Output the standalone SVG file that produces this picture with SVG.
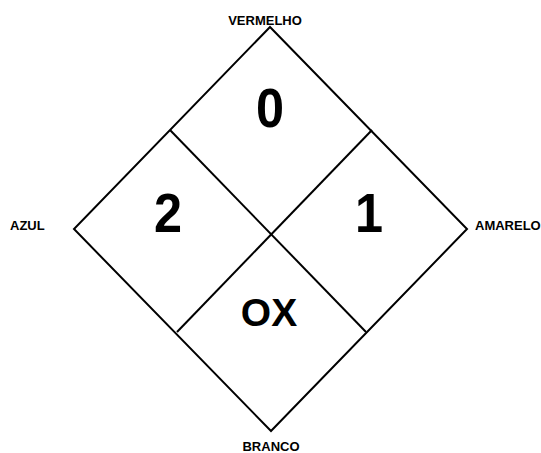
<svg xmlns="http://www.w3.org/2000/svg" width="541" height="453" viewBox="0 0 541 453">
<style>
.ln{stroke:#000;stroke-width:2;fill:none;stroke-linejoin:miter}
.lbl{font-family:"Liberation Sans",Arial,sans-serif;font-weight:bold;font-size:13px;fill:#000}
.big{font-family:"Liberation Sans",Arial,sans-serif;font-weight:bold;font-size:56px;fill:#000;text-anchor:middle}
.ox{font-family:"Liberation Sans",Arial,sans-serif;font-weight:bold;font-size:39px;fill:#000;text-anchor:middle}
</style>
<rect width="541" height="453" fill="#fff"/>
<g id="connectors">
<polygon class="ln" points="270,27 467,229 271,431 74,229"/>
<line class="ln" x1="170" y1="130" x2="366" y2="332"/>
<line class="ln" x1="372" y1="130" x2="177" y2="332"/>
</g>
<g id="top"><text class="big" x="270" y="127" transform="translate(270 0) scale(0.9 1) translate(-270 0)">0</text></g>
<g id="left"><text class="big" x="168" y="232" transform="translate(168 0) scale(0.9 1) translate(-168 0)">2</text></g>
<g id="right"><text class="big" x="369" y="232" transform="translate(369 0) scale(0.9 1) translate(-369 0)">1</text></g>
<g id="bottom"><text class="ox" x="269" y="326">OX</text></g>
<g id="label-vermelho"><text class="lbl" x="265" y="25" text-anchor="middle">VERMELHO</text></g>
<g id="label-azul"><text class="lbl" x="10" y="230">AZUL</text></g>
<g id="label-amarelo"><text class="lbl" x="475" y="230">AMARELO</text></g>
<g id="label-branco"><text class="lbl" x="271" y="451" text-anchor="middle">BRANCO</text></g>
</svg>
